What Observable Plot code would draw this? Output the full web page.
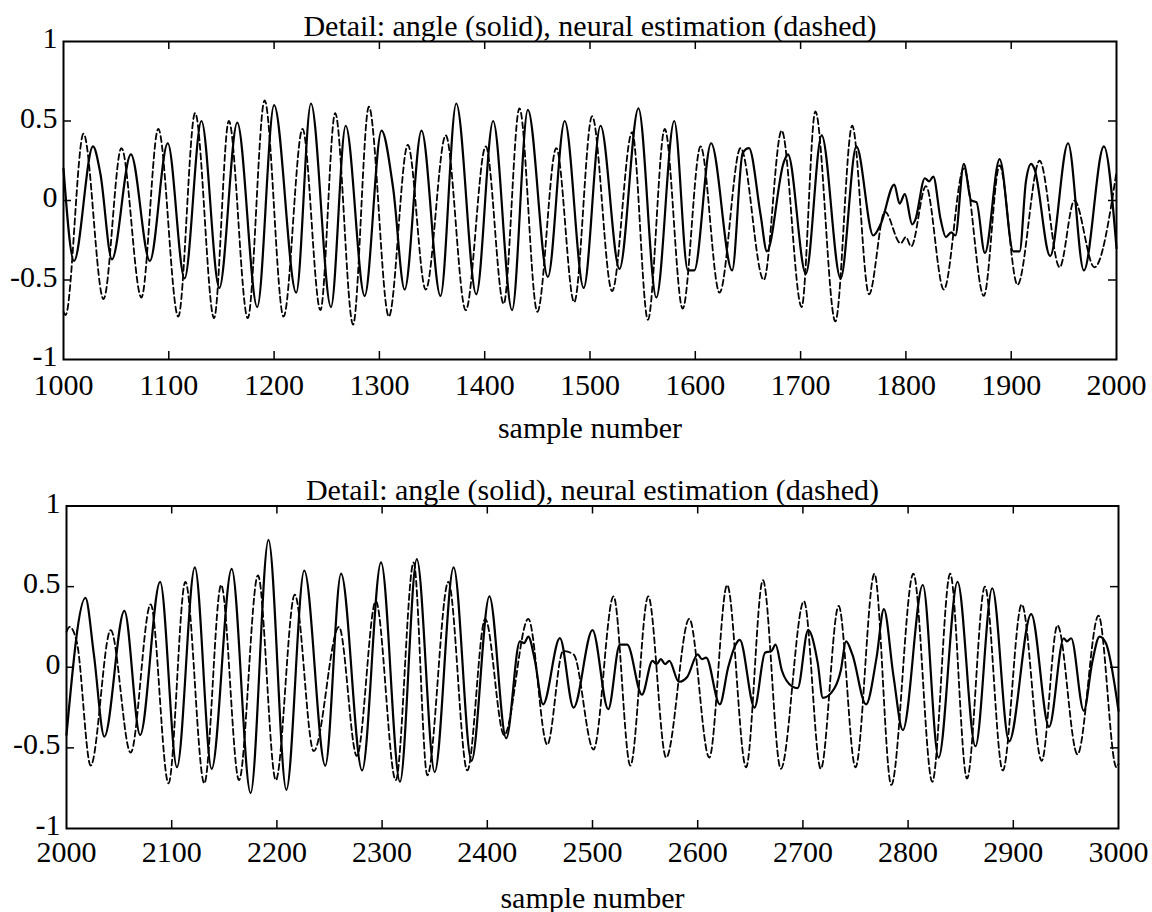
<!DOCTYPE html>
<html>
<head>
<meta charset="utf-8">
<script src="https://cdn.jsdelivr.net/npm/d3@7"></script>
<script src="https://cdn.jsdelivr.net/npm/@observablehq/plot@0.6"></script>
<style>
  html, body { margin: 0; padding: 0; background: #fff; }
  #chart svg { display: block; }
</style>
</head>
<body>
<div id="chart"></div>
<script>
// ---- Data (sample number, value) ----
const titleText = "Detail: angle (solid), neural estimation (dashed)";
const xLabelText = "sample number";
const yTicks = [-1, -0.5, 0, 0.5, 1];
const xTicksTop = [1000, 1100, 1200, 1300, 1400, 1500, 1600, 1700, 1800, 1900, 2000];
const xTicksBottom = [2000, 2100, 2200, 2300, 2400, 2500, 2600, 2700, 2800, 2900, 3000];

// Top panel: angle (solid)
const angleTop = [
  [1000, 0.20], [1010, -0.38], [1028, 0.34], [1035, 0.17], [1046, -0.37], [1064, 0.29],
  [1082, -0.38], [1099, 0.36], [1115, -0.49], [1131, 0.50], [1148, -0.55], [1165, 0.49],
  [1184, -0.67], [1200, 0.60], [1221, -0.58], [1235, 0.61], [1254, -0.67], [1268, 0.47],
  [1286, -0.60], [1302, 0.44], [1313, 0.08], [1324, -0.56], [1340, 0.44], [1358, -0.60],
  [1373, 0.61], [1392, -0.59], [1408, 0.50], [1426, -0.69], [1441, 0.57], [1460, -0.48],
  [1476, 0.50], [1494, -0.55], [1510, 0.47], [1528, -0.43], [1546, 0.58], [1563, -0.61],
  [1580, 0.50], [1593, -0.44], [1599, -0.44], [1615, 0.36], [1635, -0.44], [1645, 0.30],
  [1651, 0.33], [1662, -0.09], [1668, -0.32], [1684, 0.24], [1688, 0.29], [1705, -0.46],
  [1720, 0.41], [1738, -0.49], [1753, 0.34], [1769, -0.22], [1776, -0.15], [1789, 0.10],
  [1794, -0.02], [1799, 0.04], [1806, -0.15], [1809, -0.12], [1818, 0.14], [1822, 0.12],
  [1826, 0.15], [1833, -0.12], [1838, -0.23], [1843, -0.20], [1847, -0.22], [1855, 0.23],
  [1862, 0.00], [1867, -0.01], [1875, -0.33], [1889, 0.26], [1902, -0.32], [1908, -0.32],
  [1914, 0.12], [1919, 0.23], [1922, 0.20], [1937, -0.35], [1954, 0.36], [1969, -0.44],
  [1988, 0.34], [2000, -0.30]
];

// Top panel: neural estimation (dashed)
const estimTop = [
  [1000, -0.70], [1002, -0.72], [1019, 0.42], [1038, -0.62], [1055, 0.33], [1074, -0.61],
  [1090, 0.45], [1109, -0.73], [1125, 0.55], [1143, -0.74], [1157, 0.50], [1175, -0.74],
  [1191, 0.63], [1209, -0.73], [1227, 0.45], [1244, -0.69], [1258, 0.55], [1275, -0.78],
  [1290, 0.59], [1309, -0.73], [1327, 0.35], [1344, -0.56], [1363, 0.41], [1382, -0.69],
  [1401, 0.34], [1418, -0.65], [1433, 0.58], [1450, -0.70], [1468, 0.33], [1485, -0.64],
  [1502, 0.53], [1521, -0.57], [1540, 0.43], [1555, -0.75], [1571, 0.45], [1588, -0.68],
  [1605, 0.34], [1623, -0.58], [1643, 0.33], [1665, -0.50], [1682, 0.44], [1701, -0.67],
  [1714, 0.56], [1733, -0.76], [1749, 0.47], [1765, -0.59], [1780, -0.07], [1795, -0.27],
  [1800, -0.23], [1805, -0.29], [1819, 0.09], [1836, -0.56], [1855, 0.20], [1874, -0.60],
  [1889, 0.22], [1906, -0.53], [1927, 0.25], [1946, -0.42], [1960, 0.00], [1979, -0.42],
  [2000, 0.18]
];

// Bottom panel: angle (solid)
const angleBottom = [
  [2000, -0.42], [2018, 0.43], [2026, 0.08], [2036, -0.43], [2055, 0.35], [2070, -0.42],
  [2089, 0.53], [2105, -0.62], [2122, 0.62], [2138, -0.63], [2157, 0.61], [2175, -0.78],
  [2192, 0.79], [2209, -0.76], [2226, 0.60], [2246, -0.61], [2261, 0.58], [2281, -0.64],
  [2299, 0.65], [2317, -0.71], [2333, 0.67], [2350, -0.65], [2368, 0.62], [2385, -0.58],
  [2402, 0.44], [2418, -0.44], [2431, 0.16], [2435, 0.15], [2439, 0.19], [2445, 0.05],
  [2453, -0.23], [2469, 0.18], [2482, -0.25], [2500, 0.23], [2515, -0.26], [2526, 0.14],
  [2533, 0.14], [2547, -0.17], [2557, 0.04], [2561, 0.02], [2565, 0.05], [2569, 0.02],
  [2573, 0.04], [2582, -0.09], [2590, -0.06], [2600, 0.08], [2604, 0.05], [2608, 0.06],
  [2621, -0.23], [2629, 0.00], [2636, 0.14], [2640, 0.17], [2654, -0.25], [2664, 0.09],
  [2670, 0.10], [2674, 0.14], [2680, -0.02], [2690, -0.12], [2695, -0.13], [2705, 0.23],
  [2714, 0.03], [2719, -0.19], [2730, -0.13], [2736, -0.02], [2741, 0.16], [2747, 0.08],
  [2760, -0.23], [2770, 0.06], [2777, 0.36], [2786, -0.05], [2795, -0.39], [2814, 0.51],
  [2829, -0.56], [2847, 0.53], [2864, -0.49], [2880, 0.49], [2896, -0.46], [2917, 0.33],
  [2934, -0.37], [2948, 0.18], [2951, 0.16], [2955, 0.18], [2967, -0.27], [2975, 0.03],
  [2982, 0.19], [2988, 0.15], [3000, -0.27]
];

// Bottom panel: neural estimation (dashed)
const estimBottom = [
  [2000, 0.22], [2003, 0.25], [2010, 0.15], [2023, -0.61], [2042, 0.23], [2061, -0.53],
  [2080, 0.39], [2097, -0.72], [2113, 0.53], [2131, -0.72], [2147, 0.51], [2164, -0.70],
  [2182, 0.57], [2199, -0.70], [2217, 0.45], [2235, -0.52], [2259, 0.25], [2276, -0.55],
  [2294, 0.41], [2313, -0.70], [2330, 0.65], [2343, -0.67], [2363, 0.53], [2381, -0.64],
  [2398, 0.30], [2416, -0.42], [2439, 0.30], [2457, -0.48], [2472, 0.10], [2482, 0.08],
  [2501, -0.51], [2520, 0.44], [2536, -0.61], [2553, 0.44], [2570, -0.56], [2592, 0.30],
  [2611, -0.56], [2628, 0.51], [2646, -0.62], [2662, 0.54], [2679, -0.63], [2701, 0.41],
  [2717, -0.63], [2734, 0.38], [2750, -0.62], [2768, 0.58], [2784, -0.73], [2805, 0.58],
  [2823, -0.71], [2840, 0.58], [2856, -0.69], [2873, 0.50], [2890, -0.64], [2908, 0.39],
  [2927, -0.58], [2942, 0.26], [2961, -0.54], [2981, 0.32], [2998, -0.62], [3000, -0.60]
];

// ---- Drawing ----
const FONT = "'Liberation Serif', 'Times New Roman', Times, serif";

function panel(o) {
  const W = 1152;
  const iw = W - o.ml - o.mr;
  const ih = o.h - o.mt - o.mb;
  const tl = 8; // inward tick length
  return Plot.plot({
    width: W,
    height: o.h,
    marginTop: o.mt,
    marginBottom: o.mb,
    marginLeft: o.ml,
    marginRight: o.mr,
    style: {fontFamily: FONT, fontSize: "30px", color: "#000", background: "#fff", overflow: "visible"},
    x: {domain: o.xDomain},
    y: {domain: [-1, 1]},
    marks: [
      Plot.axisX(o.xTicks, {tickSize: 0, tickPadding: o.tickPad, tickFormat: d => String(d), fontSize: 30, label: null}),
      Plot.axisY(yTicks, {tickSize: 0, tickPadding: 6, dy: -3, tickFormat: d => String(d), fontSize: 30, label: null}),
      Plot.tickX(o.xTicks.slice(1, -1), {x: d => d, insetTop: ih - tl, stroke: "#000", strokeWidth: 1.5}),
      Plot.tickX(o.xTicks.slice(1, -1), {x: d => d, insetBottom: ih - tl, stroke: "#000", strokeWidth: 1.5}),
      Plot.tickY(yTicks.slice(1, -1), {y: d => d, insetRight: iw - tl, stroke: "#000", strokeWidth: 1.5}),
      Plot.tickY(yTicks.slice(1, -1), {y: d => d, insetLeft: iw - tl, stroke: "#000", strokeWidth: 1.5}),
      Plot.line(o.dashed, {x: d => d[0], y: d => d[1], curve: "monotone-x", stroke: "#000", strokeWidth: 1.8, strokeDasharray: "6,3.5"}),
      Plot.line(o.solid, {x: d => d[0], y: d => d[1], curve: "monotone-x", stroke: "#000", strokeWidth: 2.2}),
      Plot.frame({stroke: "#000", strokeWidth: 2}),
      Plot.text([titleText], {frameAnchor: "top", lineAnchor: "middle", dy: o.titleDy, fontSize: 30, fill: "#000"}),
      Plot.text([xLabelText], {frameAnchor: "bottom", lineAnchor: "middle", dy: o.labelDy, fontSize: 30, fill: "#000"})
    ]
  });
}

const chart = document.getElementById("chart");
chart.append(panel({
  solid: angleTop, dashed: estimTop, xDomain: [1000, 2000], xTicks: xTicksTop,
  h: 456, mt: 41, mb: 97, ml: 63, mr: 36, tickPad: 14, titleDy: -15.6, labelDy: 68.4
}));
chart.append(panel({
  solid: angleBottom, dashed: estimBottom, xDomain: [2000, 3000], xTicks: xTicksBottom,
  h: 456, mt: 49.5, mb: 84, ml: 66, mr: 34, tickPad: 12, titleDy: -16.1, labelDy: 69.4
}));
</script>
</body>
</html>
